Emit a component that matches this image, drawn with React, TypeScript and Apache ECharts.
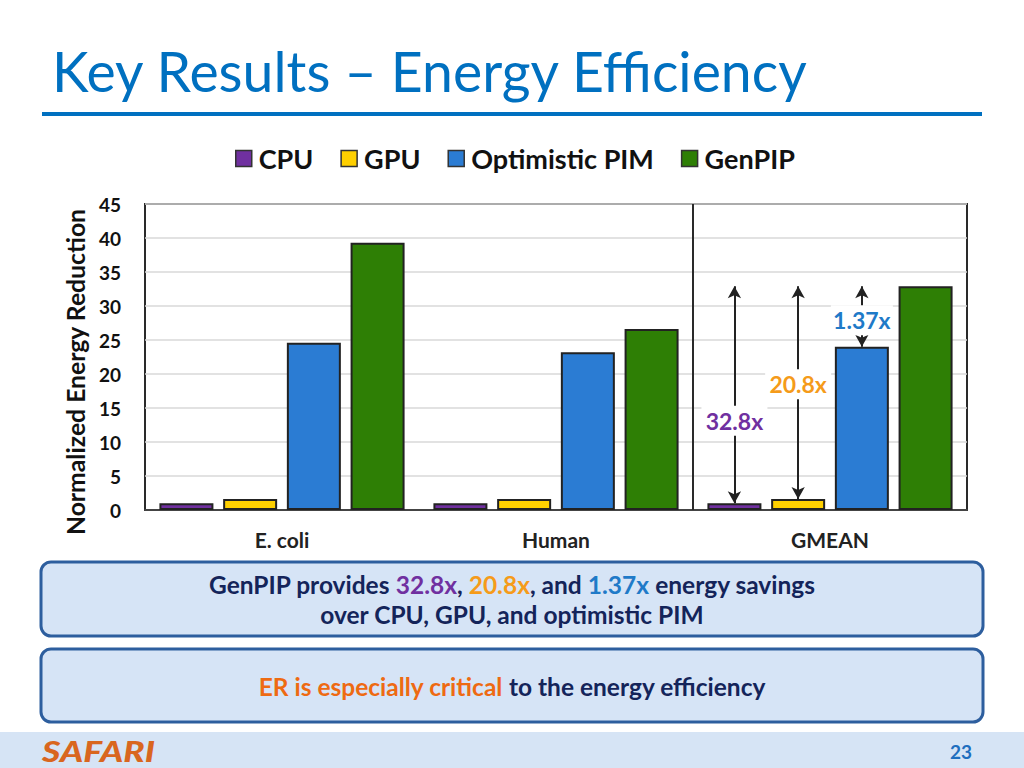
import React, { useEffect, useRef } from 'react';
import * as echarts from 'echarts';

// ---------- data ----------
const categories = ['E. coli', 'Human', 'GMEAN'];
const seriesNames = ['CPU', 'GPU', 'Optimistic PIM', 'GenPIP'];
const cpu = [1.0, 1.0, 1.0];
const gpu = [1.6, 1.6, 1.6];
const optimisticPim = [24.6, 23.2, 24.0];
const genpip = [39.3, 26.6, 32.9];
const yMin = 0;
const yMax = 45;
const yInterval = 5;
const yAxisName = 'Normalized Energy Reduction';
const savingLabels = ['32.8x', '20.8x', '1.37x'];

// ---------- style ----------
const colors = ['#7030A0', '#FFD000', '#2B7CD3', '#2E7F05'];
const labelColors = ['#7030A0', '#F59B1A', '#1F7AC8'];
const FONT = 'Lato';
const NAVY = '#14245A';

function textWidth(text: string, font: string) {
  const c = document.createElement('canvas').getContext('2d')!;
  c.font = font;
  return c.measureText(text).width;
}

export default function App() {
  const ref = useRef<HTMLDivElement>(null);
  useEffect(() => {
    document.body.style.margin = '0';
    const chart = echarts.init(ref.current!, null, { renderer: 'svg' });
    const seriesData = [cpu, gpu, optimisticPim, genpip];
    const gi = 2; // GMEAN index
    const arrowLine = (from: number, to: number) => ({
      silent: true,
      symbol: ['arrow', 'arrow'],
      symbolSize: [10, 12],
      label: { show: false },
      lineStyle: { color: '#222', width: 2, type: 'solid' },
      emphasis: { disabled: true },
      z: 5,
      data: [[{ coord: [categories[gi], from] }, { coord: [categories[gi], to] }]],
    });
    const labelPoint = (value: number, text: string, color: string, w: number) => ({
      silent: true,
      z: 10,
      symbol: 'rect',
      symbolSize: [w, 30],
      itemStyle: { color: '#fff' },
      label: {
        show: true,
        position: 'inside',
        formatter: text,
        color,
        fontSize: 23,
        fontWeight: 'bold',
        fontFamily: FONT,
      },
      emphasis: { disabled: true },
      data: [{ coord: [categories[gi], value] }],
    });
    const top = genpip[gi];
    const series: any[] = seriesNames.map((name, i) => ({
      name,
      type: 'bar',
      data: seriesData[i],
      barWidth: 54,
      barGap: '18%',
      itemStyle: { color: colors[i], borderColor: '#222', borderWidth: 2 },
      emphasis: { disabled: true },
    }));
    series[0].markLine = arrowLine(cpu[gi], top);
    series[0].markPoint = labelPoint(cpu[gi] + (top - cpu[gi]) * 0.38, savingLabels[0], labelColors[0], 66);
    series[1].markLine = arrowLine(gpu[gi], top);
    series[1].markPoint = labelPoint(gpu[gi] + (top - gpu[gi]) * 0.54, savingLabels[1], labelColors[1], 66);
    series[2].markLine = arrowLine(optimisticPim[gi], top);
    series[2].markPoint = labelPoint(optimisticPim[gi] + (top - optimisticPim[gi]) * 0.44, savingLabels[2], labelColors[2], 62);

    chart.setOption({
      animation: false,
      color: colors,
      textStyle: { fontFamily: FONT },
      legend: {
        data: seriesNames,
        left: 235,
        top: 145,
        padding: 0,
        itemWidth: 16,
        itemHeight: 16,
        itemGap: 27,
        icon: 'rect',
        selectedMode: false,
        itemStyle: { borderColor: '#333', borderWidth: 1.5 },
        textStyle: { fontSize: 27, fontWeight: 'bold', color: '#111', fontFamily: FONT, padding: [0, 0, 0, 2] },
      },
      grid: {
        show: true,
        left: 145,
        right: 57,
        top: 204,
        bottom: 258,
        borderColor: '#2a2a2a',
        borderWidth: 2,
      },
      xAxis: {
        type: 'category',
        data: categories,
        axisTick: { show: false },
        axisLine: { show: true, lineStyle: { color: '#444', width: 2 } },
        axisLabel: { margin: 19, fontSize: 21, fontWeight: 'bold', color: '#222', fontFamily: FONT },
        splitLine: { show: false },
      },
      yAxis: {
        type: 'value',
        min: yMin,
        max: yMax,
        interval: yInterval,
        axisLine: { show: false },
        axisTick: { show: false },
        axisLabel: { margin: 24, fontSize: 19, fontWeight: 'bold', color: '#111', fontFamily: FONT },
        splitLine: { show: true, lineStyle: { color: '#d9d9d9', width: 1.5 } },
      },
      series,
    });

    const xH = chart.convertToPixel({ xAxisIndex: 0 }, categories[1]) as number;
    const xG = chart.convertToPixel({ xAxisIndex: 0 }, categories[2]) as number;
    const yTop = chart.convertToPixel({ yAxisIndex: 0 }, yMax) as number;
    const yBot = chart.convertToPixel({ yAxisIndex: 0 }, yMin) as number;
    const sepX = (xH + xG) / 2;

    const title = 'Key Results – Energy Efficiency';
    const titleFont = `400 57px ${FONT}`;
    const titleScale = 758 / textWidth(title, titleFont);
    const safariFont = `italic 900 28px ${FONT}`;
    const safariScale = 113 / textWidth('SAFARI', safariFont);
    const nameFont = `bold 24px ${FONT}`;
    const nameScale = 327 / textWidth(yAxisName, nameFont);

    const fs = 24.5;
    const bodyRich = {
      n: { fill: NAVY, fontSize: fs, fontWeight: 'bold', fontFamily: FONT },
      p: { fill: labelColors[0], fontSize: fs, fontWeight: 'bold', fontFamily: FONT },
      o: { fill: labelColors[1], fontSize: fs, fontWeight: 'bold', fontFamily: FONT },
      b: { fill: labelColors[2], fontSize: fs, fontWeight: 'bold', fontFamily: FONT },
      r: { fill: '#EE6A12', fontSize: fs, fontWeight: 'bold', fontFamily: FONT },
    };

    chart.setOption({
      graphic: [
        {
          type: 'text',
          x: 52,
          y: 70,
          scaleX: titleScale,
          style: { text: title, font: titleFont, fill: '#0070C0', verticalAlign: 'middle', align: 'left' },
        },
        { type: 'rect', shape: { x: 42, y: 112, width: 940, height: 4 }, style: { fill: '#0070C0' } },
        {
          type: 'text',
          x: 76,
          y: 372,
          rotation: Math.PI / 2,
          scaleX: nameScale,
          style: { text: yAxisName, font: nameFont, fill: '#111', verticalAlign: 'middle', align: 'center' },
        },
        {
          type: 'line',
          z: 5,
          shape: { x1: sepX, y1: yTop, x2: sepX, y2: yBot },
          style: { stroke: '#2a2a2a', lineWidth: 2 },
        },
        {
          type: 'rect',
          shape: { x: 41, y: 562, width: 942, height: 74, r: 10 },
          style: { fill: '#D6E4F6', stroke: '#2D5E9E', lineWidth: 3 },
        },
        {
          type: 'text',
          x: 512,
          y: 599,
          style: {
            text: '{n|GenPIP provides }{p|32.8x}{n|, }{o|20.8x}{n|, and }{b|1.37x}{n| energy savings}\n{n|over CPU, GPU, and optimistic PIM}',
            rich: bodyRich,
            align: 'center',
            verticalAlign: 'middle',
            lineHeight: 30,
          },
        },
        {
          type: 'rect',
          shape: { x: 41, y: 649, width: 942, height: 73, r: 10 },
          style: { fill: '#D6E4F6', stroke: '#2D5E9E', lineWidth: 3 },
        },
        {
          type: 'text',
          x: 512,
          y: 686,
          style: {
            text: '{r|ER is especially critical}{n| to the energy efficiency}',
            rich: bodyRich,
            align: 'center',
            verticalAlign: 'middle',
          },
        },
        { type: 'rect', shape: { x: 0, y: 732, width: 1024, height: 36 }, style: { fill: '#D6E4F5' } },
        {
          type: 'text',
          x: 42,
          y: 751,
          scaleX: safariScale,
          style: { text: 'SAFARI', font: safariFont, fill: '#D9661F', verticalAlign: 'middle', align: 'left' },
        },
        {
          type: 'text',
          x: 961,
          y: 751,
          style: { text: '23', font: `bold 19px ${FONT}`, fill: '#1F6FBF', verticalAlign: 'middle', align: 'center' },
        },
      ],
    });
    return () => chart.dispose();
  }, []);
  return <div ref={ref} style={{ width: 1024, height: 768 }} />;
}
